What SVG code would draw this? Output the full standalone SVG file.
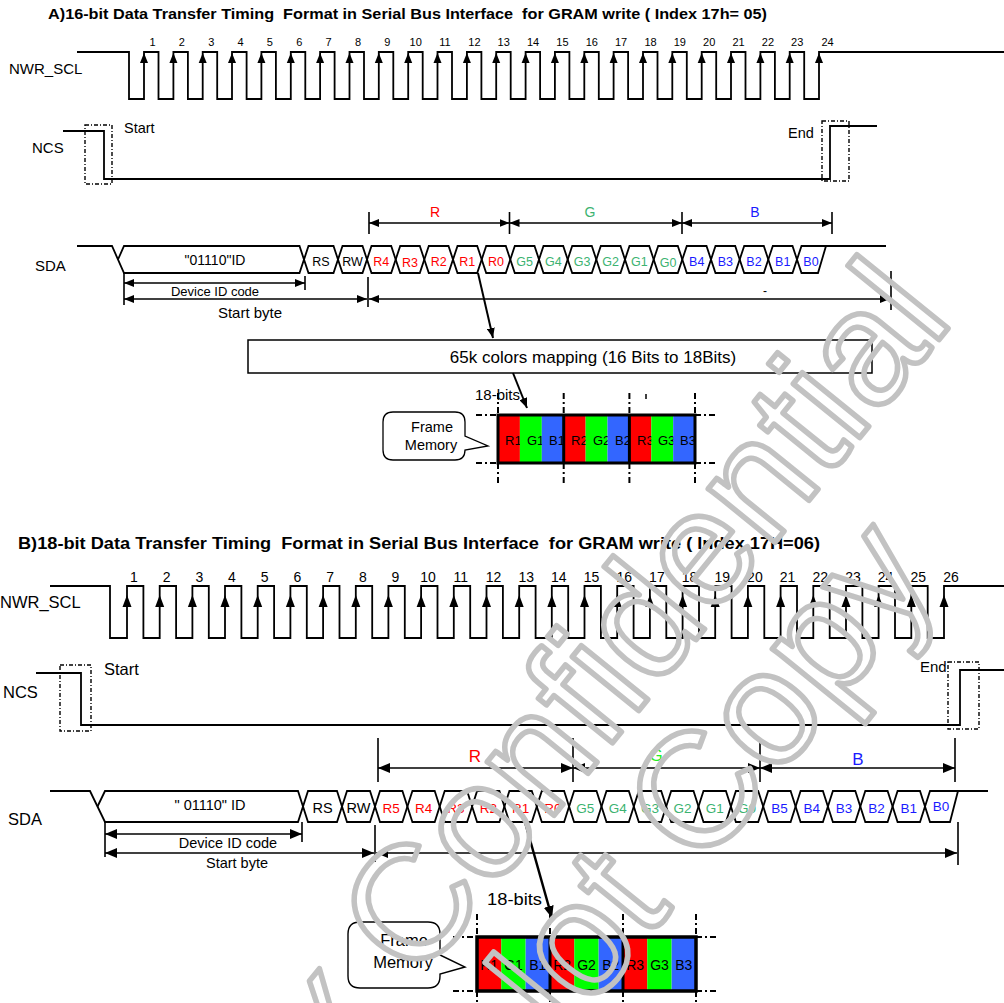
<svg xmlns="http://www.w3.org/2000/svg" width="1004" height="1003" viewBox="0 0 1004 1003">
<style>
text{font-family:"Liberation Sans",Arial,sans-serif;fill:#000}
.w{fill:none;stroke:#000;stroke-width:1.8}
.dd{fill:none;stroke:#000;stroke-width:1.4;stroke-dasharray:4 2 1 2}
.dl{fill:none;stroke:#000;stroke-width:2;stroke-dasharray:6 3 2 3}
.dim{fill:none;stroke:#000;stroke-width:1.6}
.tick{stroke:#000;stroke-width:1.6}
.r{fill:#ff0000}.g{fill:#3cb371}.b{fill:#1a1aff}
.num{font-size:11px;text-anchor:middle}
.numB{font-size:14px;text-anchor:middle}
.cl{font-size:12.5px;text-anchor:middle}
.clB{font-size:13.5px;text-anchor:middle}
.mid{text-anchor:middle}
.pre{white-space:pre}
.wm{font-size:162px;fill:none;stroke:#c2c2c2;stroke-width:5.5;stroke-linejoin:round;text-anchor:end}
</style>
<defs>
<path id="upA" d="M0 0L-4 10L4 10Z"/>
<path id="upB" d="M0 0L-4.5 12L4.5 12Z"/>
<marker id="ah" viewBox="0 0 10 8" refX="10" refY="4" markerWidth="10" markerHeight="8" markerUnits="userSpaceOnUse" orient="auto-start-reverse"><path d="M0 0L10 4L0 8Z"/></marker>
<marker id="ahB" viewBox="0 0 12 10" refX="12" refY="5" markerWidth="12" markerHeight="10" markerUnits="userSpaceOnUse" orient="auto-start-reverse"><path d="M0 0L12 5L0 10Z"/></marker>
</defs>
<rect width="1004" height="1003" fill="#fff"/>

<!-- ===== PART A ===== -->
<g id="title-a"><text class="pre" x="48" y="19" font-size="15" font-weight="bold" textLength="719" lengthAdjust="spacingAndGlyphs">A)16-bit Data Transfer Timing  Format in Serial Bus Interface  for GRAM write ( Index 17h= 05)</text></g>

<g id="nwr-a">
<text x="9" y="74" font-size="15">NWR_SCL</text>
<path class="w" d="M77 52H129V99H144V52H158.5V99H173.4V52H187.9V99H202.7V52H217.2V99H232V52H246.6V99H261.4V52H275.9V99H290.8V52H305.3V99H320.1V52H334.6V99H349.5V52H364V99H378.8V52H393.3V99H408.2V52H422.7V99H437.5V52H452V99H466.9V52H481.4V99H496.2V52H510.7V99H525.6V52H540.1V99H554.9V52H569.4V99H584.3V52H598.8V99H613.6V52H628.1V99H643V52H657.5V99H672.3V52H686.8V99H701.7V52H716.2V99H731V52H745.5V99H760.4V52H774.9V99H789.7V52H804.2V99H819V52H1004"/>
<use href="#upA" x="144" y="53"/><use href="#upA" x="173.4" y="53"/><use href="#upA" x="202.7" y="53"/><use href="#upA" x="232" y="53"/><use href="#upA" x="261.4" y="53"/><use href="#upA" x="290.8" y="53"/><use href="#upA" x="320.1" y="53"/><use href="#upA" x="349.5" y="53"/><use href="#upA" x="378.8" y="53"/><use href="#upA" x="408.2" y="53"/><use href="#upA" x="437.5" y="53"/><use href="#upA" x="466.9" y="53"/><use href="#upA" x="496.2" y="53"/><use href="#upA" x="525.6" y="53"/><use href="#upA" x="554.9" y="53"/><use href="#upA" x="584.3" y="53"/><use href="#upA" x="613.6" y="53"/><use href="#upA" x="643" y="53"/><use href="#upA" x="672.3" y="53"/><use href="#upA" x="701.7" y="53"/><use href="#upA" x="731" y="53"/><use href="#upA" x="760.4" y="53"/><use href="#upA" x="789.7" y="53"/><use href="#upA" x="819" y="53"/>
<text class="num" x="152.5" y="46">1</text><text class="num" x="181.9" y="46">2</text><text class="num" x="211.2" y="46">3</text><text class="num" x="240.6" y="46">4</text><text class="num" x="269.9" y="46">5</text><text class="num" x="299.3" y="46">6</text><text class="num" x="328.6" y="46">7</text><text class="num" x="358" y="46">8</text><text class="num" x="387.3" y="46">9</text><text class="num" x="415.7" y="46">10</text><text class="num" x="445" y="46">11</text><text class="num" x="474.4" y="46">12</text><text class="num" x="503.7" y="46">13</text><text class="num" x="533.1" y="46">14</text><text class="num" x="562.4" y="46">15</text><text class="num" x="591.8" y="46">16</text><text class="num" x="621.1" y="46">17</text><text class="num" x="650.5" y="46">18</text><text class="num" x="679.8" y="46">19</text><text class="num" x="709.2" y="46">20</text><text class="num" x="738.5" y="46">21</text><text class="num" x="767.9" y="46">22</text><text class="num" x="797.2" y="46">23</text><text class="num" x="827.6" y="46">24</text>
</g>

<g id="ncs-a">
<text x="32" y="153" font-size="15">NCS</text>
<path class="w" d="M63 131H104V179H830V126H877"/>
<rect class="dd" x="85" y="125" width="27" height="59"/>
<rect class="dd" x="822" y="121" width="27" height="60"/>
<text x="124" y="133" font-size="14.5">Start</text>
<text x="788" y="138" font-size="14.5">End</text>
</g>

<g id="sda-a">
<text x="35" y="271" font-size="15">SDA</text>
<path class="w" d="M77 246H112L124 273H299.5L308.5 246H333.5L342.5 273H362.5L371.5 246H391.2L400.2 273H419.8L428.8 246H448.5L457.5 273H477.2L486.2 246H505.8L514.8 273H534.5L543.5 246H563.2L572.2 273H591.8L600.8 246H620.5L629.5 273H649.2L658.2 246H677.8L686.8 273H706.5L715.5 246H735.2L744.2 273H763.8L772.8 246H792.5L801.5 273H818L826 246H886"/>
<path class="w" d="M118 259.5L124 246H299.5L308.5 273H333.5L342.5 246H362.5L371.5 273H391.2L400.2 246H419.8L428.8 273H448.5L457.5 246H477.2L486.2 273H505.8L514.8 246H534.5L543.5 273H563.2L572.2 246H591.8L600.8 273H620.5L629.5 246H649.2L658.2 273H677.8L686.8 246H706.5L715.5 273H735.2L744.2 246H763.8L772.8 273H792.5L801.5 246H826"/>
<text x="215" y="265" font-size="14" class="mid">"01110"ID</text>
<text class="cl" x="321" y="266">RS</text><text class="cl" x="352.5" y="266">RW</text>
<text class="cl r" x="381.3" y="266">R4</text><text class="cl r" x="410" y="267">R3</text><text class="cl r" x="438.7" y="266">R2</text><text class="cl r" x="467.3" y="266">R1</text><text class="cl r" x="496" y="266">R0</text>
<text class="cl g" x="524.7" y="266">G5</text><text class="cl g" x="553.3" y="266">G4</text><text class="cl g" x="582" y="266">G3</text><text class="cl g" x="610.7" y="266">G2</text><text class="cl g" x="639.3" y="266">G1</text><text class="cl g" x="668" y="267">G0</text>
<text class="cl b" x="696.7" y="266">B4</text><text class="cl b" x="725.3" y="266">B3</text><text class="cl b" x="754" y="266">B2</text><text class="cl b" x="782.7" y="266">B1</text><text class="cl b" x="811" y="266">B0</text>
</g>

<g id="dims-a">
<line class="tick" x1="369" y1="212" x2="369" y2="234"/><line class="tick" x1="509.5" y1="212" x2="509.5" y2="234"/><line class="tick" x1="682" y1="212" x2="682" y2="234"/><line class="tick" x1="832" y1="212" x2="832" y2="234"/>
<line class="dim" x1="369" y1="223" x2="509.5" y2="223" marker-start="url(#ah)" marker-end="url(#ah)"/>
<line class="dim" x1="509.5" y1="223" x2="682" y2="223" marker-start="url(#ah)" marker-end="url(#ah)"/>
<line class="dim" x1="682" y1="223" x2="832" y2="223" marker-start="url(#ah)" marker-end="url(#ah)"/>
<text x="435" y="217" font-size="14" class="mid r">R</text>
<text x="590" y="217" font-size="14" class="mid g">G</text>
<text x="755" y="217" font-size="14" class="mid b">B</text>
<line class="tick" x1="124" y1="273" x2="124" y2="305"/><line class="tick" x1="305" y1="276" x2="305" y2="290"/>
<line class="dim" x1="124" y1="283" x2="305" y2="283" marker-start="url(#ah)" marker-end="url(#ah)"/>
<text x="215" y="296" font-size="13" class="mid">Device ID code</text>
<line class="tick" x1="368" y1="277" x2="368" y2="307"/><line class="tick" x1="891" y1="271" x2="891" y2="310"/>
<line class="dim" x1="124" y1="299" x2="367" y2="299" marker-start="url(#ah)" marker-end="url(#ah)"/>
<line class="dim" x1="369" y1="299" x2="890" y2="299" marker-start="url(#ah)" marker-end="url(#ah)"/>
<text x="250" y="318" font-size="15" class="mid">Start byte</text>
<text x="763" y="295" font-size="12">-</text>
</g>

<g id="mapping-a">
<rect x="248" y="340" width="624" height="33" fill="#fff" stroke="#000" stroke-width="1.5"/>
<text x="593" y="363" font-size="17" class="mid">65k colors mapping (16 Bits to 18Bits)</text>
</g>

<g id="frame-a">
<path d="M383 422Q383 412 393 412H455Q465 412 465 422V436L488 446L465 450V450Q465 460 455 460H393Q383 460 383 450Z" fill="#fff" stroke="#000" stroke-width="1.3"/>
<text x="432" y="432" font-size="14.5" class="mid">Frame</text>
<text x="431" y="450" font-size="14.5" class="mid">Memory</text>
<text x="475" y="400" font-size="14" textLength="45" lengthAdjust="spacingAndGlyphs">18-bits</text>
<g font-size="13">
<rect x="498" y="415" width="21.9" height="48" fill="#ff0000"/><text x="505" y="445">R1</text>
<rect x="519.9" y="415" width="21.9" height="48" fill="#00ff00"/><text x="527" y="445">G1</text>
<rect x="541.8" y="415" width="21.9" height="48" fill="#3366ff"/><text x="549" y="445">B1</text>
<rect x="563.7" y="415" width="21.9" height="48" fill="#ff0000"/><text x="571" y="445">R2</text>
<rect x="585.6" y="415" width="21.9" height="48" fill="#00ff00"/><text x="593" y="445">G2</text>
<rect x="607.5" y="415" width="21.9" height="48" fill="#3366ff"/><text x="615" y="445">B2</text>
<rect x="629.4" y="415" width="21.9" height="48" fill="#ff0000"/><text x="637" y="445">R3</text>
<rect x="651.3" y="415" width="21.9" height="48" fill="#00ff00"/><text x="658" y="445">G3</text>
<rect x="673.2" y="415" width="21.9" height="48" fill="#3366ff"/><text x="680" y="445">B3</text>
</g>
<rect x="498" y="415" width="197" height="48" fill="none" stroke="#000" stroke-width="3"/>
<line x1="563.7" y1="415" x2="563.7" y2="463" stroke="#000" stroke-width="3"/>
<line x1="629.4" y1="415" x2="629.4" y2="463" stroke="#000" stroke-width="3"/>
<path class="dl" d="M498 393V415M563.7 393V415M629.4 393V415M695 393V415M498 463V485M563.7 463V485M629.4 463V485M695 463V485M476 415H498M476 463H498M695 415H717M695 463H717"/>
<line x1="646" y1="394" x2="646" y2="399" stroke="#000" stroke-width="1.5"/>
</g>

<!-- ===== PART B ===== -->
<g id="title-b"><text class="pre" x="18" y="549" font-size="16" font-weight="bold" textLength="802" lengthAdjust="spacingAndGlyphs">B)18-bit Data Transfer Timing  Format in Serial Bus Interface  for GRAM write ( Index 17H=06)</text></g>

<g id="nwr-b">
<text x="0" y="608" font-size="16.5">NWR_SCL</text>
<path class="w" d="M50 586H110V638H127V586H143.4V638H159.7V586H176.1V638H192.4V586H208.8V638H225V586H241.4V638H257.7V586H274.1V638H290.4V586H306.8V638H323.1V586H339.5V638H355.8V586H372.2V638H388.4V586H404.8V638H421.1V586H437.5V638H453.8V586H470.2V638H486.5V586H502.9V638H519.2V586H535.6V638H551.8V586H568.2V638H584.5V586H600.9V638H617.2V586H633.6V638H649.9V586H666.3V638H682.6V586H699V638H715.2V586H731.6V638H747.9V586H764.3V638H780.6V586H797V638H813.3V586H829.7V638H846V586H862.4V638H878.6V586H895V638H911.3V586H927.7V638H944V586H1004"/>
<use href="#upB" x="127" y="595"/><use href="#upB" x="159.7" y="595"/><use href="#upB" x="192.4" y="595"/><use href="#upB" x="225" y="595"/><use href="#upB" x="257.7" y="595"/><use href="#upB" x="290.4" y="595"/><use href="#upB" x="323.1" y="595"/><use href="#upB" x="355.8" y="595"/><use href="#upB" x="388.4" y="595"/><use href="#upB" x="421.1" y="595"/><use href="#upB" x="453.8" y="595"/><use href="#upB" x="486.5" y="595"/><use href="#upB" x="519.2" y="595"/><use href="#upB" x="551.8" y="595"/><use href="#upB" x="584.5" y="595"/><use href="#upB" x="617.2" y="595"/><use href="#upB" x="649.9" y="595"/><use href="#upB" x="682.6" y="595"/><use href="#upB" x="715.2" y="595"/><use href="#upB" x="747.9" y="595"/><use href="#upB" x="780.6" y="595"/><use href="#upB" x="813.3" y="595"/><use href="#upB" x="846" y="595"/><use href="#upB" x="878.6" y="595"/><use href="#upB" x="911.3" y="595"/><use href="#upB" x="944" y="595"/>
<text class="numB" x="134" y="582">1</text><text class="numB" x="166.7" y="582">2</text><text class="numB" x="199.4" y="582">3</text><text class="numB" x="232" y="582">4</text><text class="numB" x="264.7" y="582">5</text><text class="numB" x="297.4" y="582">6</text><text class="numB" x="330.1" y="582">7</text><text class="numB" x="362.8" y="582">8</text><text class="numB" x="395.4" y="582">9</text><text class="numB" x="428.1" y="582">10</text><text class="numB" x="460.8" y="582">11</text><text class="numB" x="493.5" y="582">12</text><text class="numB" x="526.2" y="582">13</text><text class="numB" x="558.8" y="582">14</text><text class="numB" x="591.5" y="582">15</text><text class="numB" x="624.2" y="582">16</text><text class="numB" x="656.9" y="582">17</text><text class="numB" x="689.6" y="582">18</text><text class="numB" x="722.2" y="582">19</text><text class="numB" x="754.9" y="582">20</text><text class="numB" x="787.6" y="582">21</text><text class="numB" x="820.3" y="582">22</text><text class="numB" x="853" y="582">23</text><text class="numB" x="885.6" y="582">24</text><text class="numB" x="918.3" y="582">25</text><text class="numB" x="951" y="582">26</text>
</g>

<g id="ncs-b">
<text x="3" y="698" font-size="16.5">NCS</text>
<path class="w" d="M36 673H81V725H960V670H1004"/>
<rect class="dd" x="60" y="665" width="31" height="66"/>
<rect class="dd" x="948" y="662" width="31" height="67"/>
<text x="104" y="675" font-size="16.5">Start</text>
<text x="920" y="672" font-size="15">End</text>
</g>

<g id="sda-b">
<text x="8" y="825" font-size="16.5">SDA</text>
<path class="w" d="M50 791H90L105 822H298L308 791H337L347 822H370L380 791H402.4L412.4 822H434.7L444.7 791H467.1L477.1 822H499.4L509.4 791H531.8L541.8 822H564.1L574.1 791H596.5L606.5 822H628.8L638.8 791H661.2L671.2 822H693.5L703.5 791H725.9L735.9 822H758.2L768.2 791H790.6L800.6 822H822.9L832.9 791H855.3L865.3 822H887.6L897.6 791H920L930 822H950L958 791H988"/>
<path class="w" d="M97.5 806.5L105 791H298L308 822H337L347 791H370L380 822H402.4L412.4 791H434.7L444.7 822H467.1L477.1 791H499.4L509.4 822H531.8L541.8 791H564.1L574.1 822H596.5L606.5 791H628.8L638.8 822H661.2L671.2 791H693.5L703.5 822H725.9L735.9 791H758.2L768.2 822H790.6L800.6 791H822.9L832.9 822H855.3L865.3 791H887.6L897.6 822H920L930 791H958"/>
<text class="pre mid" x="210" y="810" font-size="14.5">" 01110" ID</text>
<text x="322.5" y="813" font-size="14.5" class="mid">RS</text><text x="358.5" y="813" font-size="14.5" class="mid">RW</text>
<text class="clB r" x="391.2" y="813">R5</text><text class="clB r" x="423.6" y="813">R4</text><text class="clB r" x="455.9" y="813">R3</text><text class="clB r" x="488.3" y="813">R2</text><text class="clB r" x="520.6" y="813">R1</text><text class="clB r" x="553" y="813">R0</text>
<text class="clB g" x="585.3" y="813">G5</text><text class="clB g" x="617.7" y="813">G4</text><text class="clB g" x="650" y="813">G3</text><text class="clB g" x="682.4" y="813">G2</text><text class="clB g" x="714.7" y="813">G1</text><text class="clB g" x="747.1" y="813">G0</text>
<text class="clB b" x="779.4" y="813">B5</text><text class="clB b" x="811.8" y="813">B4</text><text class="clB b" x="844.1" y="813">B3</text><text class="clB b" x="876.5" y="813">B2</text><text class="clB b" x="908.8" y="813">B1</text><text class="clB b" x="941" y="811">B0</text>
</g>

<g id="dims-b">
<line class="tick" x1="378" y1="738" x2="378" y2="782"/><line class="tick" x1="573" y1="738" x2="573" y2="782"/><line class="tick" x1="760" y1="738" x2="760" y2="782"/><line class="tick" x1="955" y1="738" x2="955" y2="782"/>
<line class="dim" x1="378" y1="768" x2="573" y2="768" marker-start="url(#ahB)" marker-end="url(#ahB)"/>
<line class="dim" x1="573" y1="768" x2="760" y2="768" marker-start="url(#ahB)" marker-end="url(#ahB)"/>
<line class="dim" x1="760" y1="768" x2="955" y2="768" marker-start="url(#ahB)" marker-end="url(#ahB)"/>
<text x="475" y="762" font-size="17" class="mid r">R</text>
<text x="656" y="761" font-size="17" class="mid" style="fill:#22ee22">G</text>
<text x="858" y="765" font-size="17" class="mid b">B</text>
<line class="tick" x1="105" y1="822" x2="105" y2="857"/><line class="tick" x1="302" y1="822" x2="302" y2="842"/>
<line class="dim" x1="105" y1="834" x2="302" y2="834" marker-start="url(#ahB)" marker-end="url(#ahB)"/>
<text x="228" y="848" font-size="14.5" class="mid">Device ID code</text>
<line class="tick" x1="375" y1="825" x2="375" y2="862"/><line class="tick" x1="958" y1="822" x2="958" y2="865"/>
<line class="dim" x1="105" y1="853" x2="374" y2="853" marker-start="url(#ahB)" marker-end="url(#ahB)"/>
<line class="dim" x1="376" y1="853" x2="957" y2="853" marker-start="url(#ahB)" marker-end="url(#ahB)"/>
<text x="237" y="868" font-size="14.5" class="mid">Start byte</text>
</g>

<g id="frame-b">
<path d="M348 934Q348 922 360 922H428Q440 922 440 934V955L465 967L440 974V976Q440 988 428 988H360Q348 988 348 976Z" fill="#fff" stroke="#000" stroke-width="1.4"/>
<text x="404" y="946" font-size="16.5" class="mid">Frame</text>
<text x="403" y="968" font-size="16.5" class="mid">Memory</text>
<text x="487" y="905" font-size="17" textLength="55" lengthAdjust="spacingAndGlyphs">18-bits</text>
<g font-size="14" text-anchor="middle">
<rect x="477" y="937" width="24.33" height="54" fill="#ff0000"/><rect x="501.3" y="937" width="24.33" height="54" fill="#00ff00"/><rect x="525.7" y="937" width="24.33" height="54" fill="#3366ff"/>
<rect x="550" y="937" width="24.33" height="54" fill="#ff0000"/><rect x="574.3" y="937" width="24.33" height="54" fill="#00ff00"/><rect x="598.7" y="937" width="24.33" height="54" fill="#3366ff"/>
<rect x="623" y="937" width="24.33" height="54" fill="#ff0000"/><rect x="647.3" y="937" width="24.33" height="54" fill="#00ff00"/><rect x="671.7" y="937" width="24.33" height="54" fill="#3366ff"/>
<text x="489.2" y="970">R1</text><text x="513.5" y="970">G1</text><text x="537.8" y="970">B1</text>
<text x="562.2" y="970">R2</text><text x="586.5" y="970">G2</text><text x="610.8" y="970">B2</text>
<text x="635.2" y="970">R3</text><text x="659.5" y="970">G3</text><text x="683.8" y="970">B3</text>
</g>
<rect x="477" y="937" width="219" height="54" fill="none" stroke="#000" stroke-width="3.5"/>
<line x1="550" y1="937" x2="550" y2="991" stroke="#000" stroke-width="3"/>
<line x1="623" y1="937" x2="623" y2="991" stroke="#000" stroke-width="3"/>
<path class="dl" d="M477 914V937M550 914V937M623 914V937M696 914V937M477 991V1003M550 991V1003M623 991V1003M696 991V1003M453 937H477M453 991H477M696 937H718M696 991H718"/>
</g>

<g id="connectors" fill="none" stroke="#000">
<line x1="478" y1="273" x2="493" y2="338" stroke-width="2" marker-end="url(#ah)"/>
<line x1="513" y1="373" x2="527" y2="408" stroke-width="2" marker-end="url(#ah)"/>
<line x1="525" y1="822" x2="552" y2="918" stroke-width="2.5" marker-end="url(#ahB)"/>
</g>

<g id="watermark">
<text class="wm" transform="translate(955 320) rotate(-51)">x Confidential</text>
<text class="wm" transform="translate(940 578) rotate(-51)">Not Copy</text>
</g>
</svg>
